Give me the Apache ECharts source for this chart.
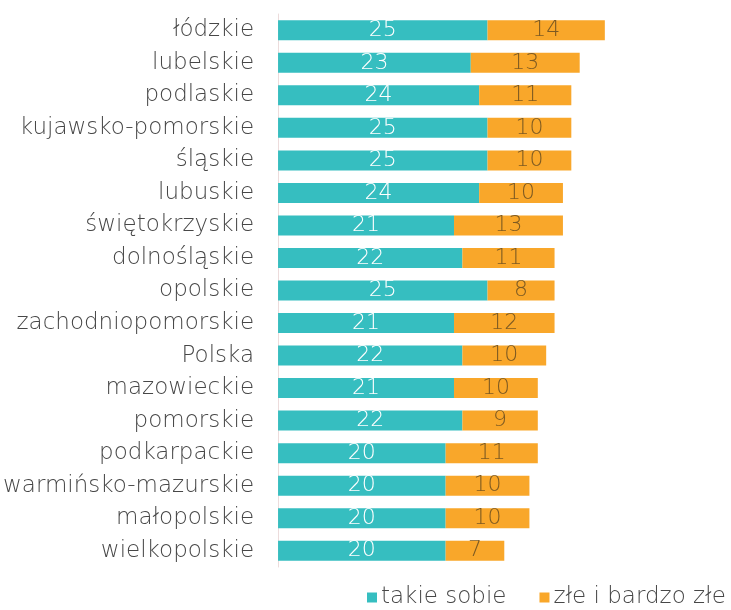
<!DOCTYPE html>
<html><head><meta charset="utf-8">
<script src="https://cdn.jsdelivr.net/npm/echarts@6/dist/echarts.min.js"></script>
<style>html,body{margin:0;padding:0;background:#fff}#c{width:731px;height:610px}</style>
</head><body><div id="c"></div>
<script>
const categories = ['łódzkie','lubelskie','podlaskie','kujawsko-pomorskie','śląskie','lubuskie','świętokrzyskie','dolnośląskie','opolskie','zachodniopomorskie','Polska','mazowieckie','pomorskie','podkarpackie','warmińsko-mazurskie','małopolskie','wielkopolskie'];
const takieSobie = [25,23,24,25,25,24,21,22,25,21,22,21,22,20,20,20,20];
const zle = [14,13,11,10,10,10,13,11,8,12,10,10,9,11,10,10,7];
const seriesNames = ['takie sobie','złe i bardzo złe'];

const FONT = 'DejaVu Sans';
const FW = 200;
const chart = echarts.init(document.getElementById('c'), null, {renderer:'canvas'});
chart.setOption({
  animation:false,
  grid:{left:277, right:34, top:14, bottom:43, containLabel:false},
  xAxis:{type:'value', min:0, max:50, show:false},
  yAxis:{type:'category', data:categories, inverse:true,
    axisLine:{show:true, lineStyle:{color:'#ecdcdc', width:1}},
    axisTick:{show:false},
    axisLabel:{color:'#474747', fontSize:23, fontWeight:FW, fontFamily:FONT, margin:24}},
  legend:{top:586, left:367, width:400, padding:0, itemWidth:10, itemHeight:10, itemGap:33, icon:'rect',
    textStyle:{color:'#474747', fontSize:23, fontWeight:FW, fontFamily:FONT, padding:[0,0,0,-1]}},
  series:[
    {name:seriesNames[0], type:'bar', stack:'a', data:takieSobie, barWidth:20,
      itemStyle:{color:'#36BEC0'},
      label:{show:true, position:'inside', color:'#ffffff', fontSize:22, fontWeight:FW, fontFamily:FONT}},
    {name:seriesNames[1], type:'bar', stack:'a', data:zle, barWidth:20,
      itemStyle:{color:'#F9A72A'},
      label:{show:true, position:'inside', color:'#7d5a22', fontSize:22, fontWeight:FW, fontFamily:FONT}}
  ]
});
</script></body></html>
